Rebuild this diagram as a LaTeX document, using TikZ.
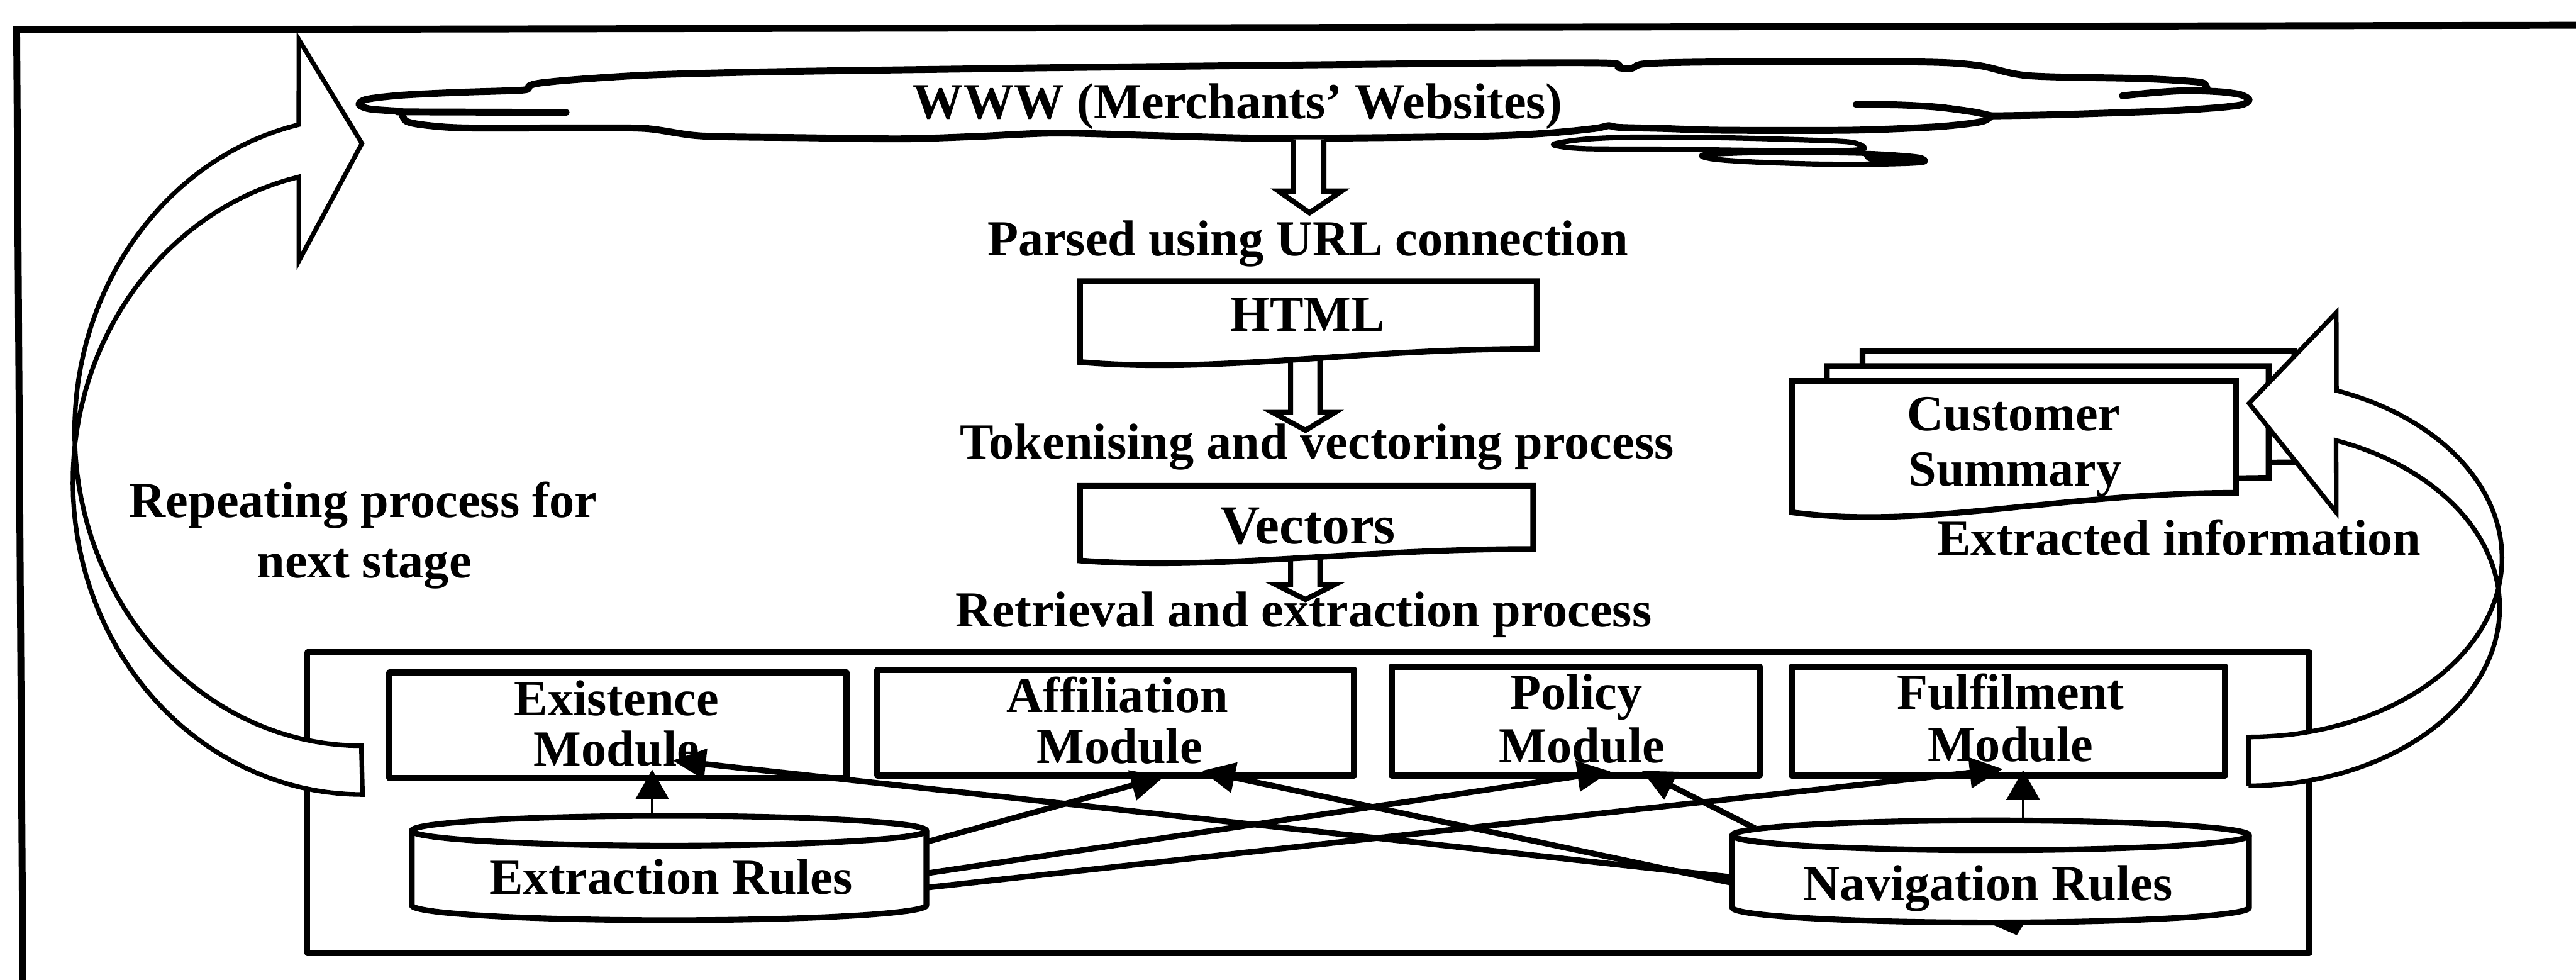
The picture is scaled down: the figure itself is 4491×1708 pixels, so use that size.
\documentclass[tikz,border=0pt]{standalone}
\usepackage{fontspec}
\setmainfont{Liberation Serif}
\usetikzlibrary{arrows.meta,calc}

% document shape with a wavy lower edge: left, top, right, lower-left y, rise of the wave
\newcommand\paperdoc[5]{%
  \draw[docline] (#1,#2) -- (#3,#2) -- (#3,#4-#5)
    .. controls ({#1+0.6*(#3-#1)},#4-#5) and ({#1+0.3*(#3-#1)},#4+0.9*#5) .. (#1,#4) -- cycle;}

% database drum: centre x, top ellipse centre y, x radius, y radius, foot y of the sides
\newcommand\rulesdrum[5]{%
  \draw[cyl] (#1-#3,#2) -- (#1-#3,#5)
     .. controls (#1-#3,#5+0.552*#4) and (#1-0.552*#3,#5+#4) .. (#1,#5+#4)
     .. controls (#1+0.552*#3,#5+#4) and (#1+#3,#5+0.552*#4) .. (#1+#3,#5)
     -- (#1+#3,#2) -- cycle;
  \draw[cyl] (#1,#2) ellipse [x radius=#3pt, y radius=#4pt];}

\begin{document}
\begin{tikzpicture}[x=1pt,y=-1pt,line join=round,
  txt/.style={inner sep=0pt, anchor=base, font=\fontsize{88}{88}\selectfont\bfseries},
  bigtxt/.style={txt, font=\fontsize{96}{96}\selectfont\bfseries},
  frame/.style={line width=12pt, line join=miter},
  cloudline/.style={line width=12pt, line cap=round},
  docline/.style={line width=10pt, fill=white, line join=miter},
  holder/.style={draw, line width=10pt, fill=white, inner sep=0pt},
  modbox/.style={draw, line width=11pt, fill=white, inner sep=0pt},
  spot/.style={inner sep=0pt},
  cyl/.style={line width=10pt, fill=white},
  link/.style={line width=10pt, -{Triangle[length=58pt,width=52pt]}},
  rise/.style={line width=5pt, -{Triangle[length=52pt,width=58pt]}},
  block/.style={line width=9pt, fill=white, line join=miter},
  curvearrow/.style={line width=8pt, fill=white, line join=miter}]

\useasboundingbox (0,0) rectangle (4491,1708);

% outer frame
\draw[frame] (40,1720) -- (29,52) -- (4500,44);

% cloud: WWW
\draw[cloudline] plot[smooth, tension=0.5] coordinates {
  (700,194) (645,190) (626,182) (640,173) (700,166) (800,161) (912,157)
  (922,150) (940,145) (1000,139) (1125,131) (1300,126) (1482,123) (1700,120)
  (1839,118) (2200,114) (2600,110) (2805,110) (2822,118) (2845,119) (2870,111)
  (3002,108) (3341,108) (3448,114) (3537,132) (3734,137) (3832,143) (3846,150) (3848,158)};
\draw[cloudline] plot[smooth, tension=0.5] coordinates {
  (3700,167) (3760,161) (3814,158) (3870,160) (3906,165) (3921,174) (3906,183)
  (3850,189) (3761,194) (3582,200) (3472,202)};
\draw[cloudline] plot[smooth, tension=0.5] coordinates {
  (3472,202) (3440,195) (3380,187) (3314,183) (3236,182)};
\draw[cloudline] plot[smooth, tension=0.5] coordinates {
  (3472,202) (3458,211) (3420,217) (3359,222) (3225,227) (3002,227) (2900,224)
  (2823,222) (2805,219) (2780,224) (2700,232) (2600,237) (2400,240) (2200,241)
  (2000,236) (1839,232) (1700,238) (1571,242) (1400,240) (1223,237) (1125,224)
  (1000,223) (812,223) (740,218) (708,211) (700,196)};
\draw[cloudline] (692,195) -- (987,196);
\draw[line width=9pt] plot[smooth cycle, tension=0.5] coordinates {
  (2708,252) (2760,243) (2850,239) (3000,240) (3150,244) (3228,248) (3250,259)
  (3200,263) (3050,262) (2900,260) (2760,259)};
\draw[line width=9pt] plot[smooth cycle, tension=0.5] coordinates {
  (2970,270) (3060,266) (3180,266) (3270,268) (3345,274) (3352,283) (3280,286)
  (3170,286) (3050,282) (2985,277)};
\fill plot[smooth cycle, tension=0.5] coordinates {(3255,266) (3340,271) (3356,283) (3300,287) (3258,281)};

% hollow block arrows down the pipeline
\draw[block] (2255,243) -- (2255,333) -- (2229,333) -- (2283,371) -- (2339,333) -- (2308,333) -- (2308,243);
\draw[block] (2250,622) -- (2250,719) -- (2219,719) -- (2276,750) -- (2327,719) -- (2301,719) -- (2301,622);
\draw[block] (2250,968) -- (2250,1019) -- (2224,1019) -- (2276,1045) -- (2327,1019) -- (2301,1019) -- (2301,968);

% documents
\paperdoc{1883}{490}{2679}{631}{23}
\paperdoc{1883}{847}{2673}{977}{20}
\paperdoc{3247}{612}{4000}{840}{34}
\paperdoc{3185}{638}{3955}{867}{34}
\paperdoc{3124}{664}{3898}{893}{34}

% module container and modules
\node[holder, minimum width=3490pt, minimum height=525pt] (stage) at (2281,1399.5) {};
\node[modbox, minimum width=797pt, minimum height=184pt] (exist) at (1077.5,1264) {};
\node[modbox, minimum width=831pt, minimum height=184pt] (affil) at (1945.5,1260) {};
\node[modbox, minimum width=642pt, minimum height=190pt] (policy) at (2747,1257) {};
\node[modbox, minimum width=755pt, minimum height=190pt] (fulfil) at (3501.5,1257) {};

% rule stores
\rulesdrum{1166.5}{1448}{448.5}{26}{1578}
\rulesdrum{3470.5}{1456}{450.5}{26}{1582}
\fill (3470,1610) -- (3516,1630) -- (3530,1608) -- cycle;
\node[spot, minimum width=897pt, minimum height=182pt] (extr) at (1166.5,1513) {};
\node[spot, minimum width=901pt, minimum height=178pt] (navi) at (3470.5,1519) {};

% rule connectors
\draw[rise] ($(extr.north)+(-29.5,0)$) -- ($(exist.south)+(59.5,-20)$);
\draw[rise] ($(navi.north)+(56.5,0)$) -- ($(fulfil.south)+(25.5,-15)$);
\draw[link] ($(navi.west)+(0,10)$) -- ($(exist.south)+(95,-36)$);
\draw[link] ($(navi.west)+(0,20)$) -- ($(affil.south)+(149.5,-14)$);
\draw[link] ($(navi.north west)+(40,14)$) -- ($(policy.south)+(115,-14)$);
\draw[link] ($(extr.east)+(2,-46)$) -- ($(affil.south)+(84.5,-4)$);
\draw[link] ($(extr.east)+(2,9)$) -- ($(policy.south)+(61,-13)$);
\draw[link] ($(extr.east)+(2,34)$) -- ($(fulfil.south)+(-9.5,-17)$);

% labels
\node[txt] (www) at (2158,207) {WWW (Merchants’ Websites)};
\node[txt] (parsed) at (2280,446) {Parsed using URL connection};
\node[txt] (htmltxt) at (2280,577) {HTML};
\node[txt] (token) at (2296,800) {Tokenising and vectoring process};
\node[bigtxt] (vec) at (2280,948) {Vectors};
\node[txt] (retr) at (2273,1093) {Retrieval and extraction process};
\node[txt] (cust1) at (3511,750) {Customer};
\node[txt] (cust2) at (3513,847) {Summary};
\node[txt] (extinfo) at (3799,968) {Extracted information};
\node[txt] (rep1) at (633,902) {Repeating process for};
\node[txt] (rep2) at (635,1007) {next stage};
\node[txt] (exist1) at (1075,1247) {Existence};
\node[txt] (exist2) at (1075,1335) {Module};
\node[txt] (affil1) at (1948,1242) {Affiliation};
\node[txt] (affil2) at (1952,1331) {Module};
\node[txt] (policy1) at (2748,1236) {Policy};
\node[txt] (policy2) at (2758,1329) {Module};
\node[txt] (fulfil1) at (3505,1236) {Fulfilment};
\node[txt] (fulfil2) at (3505,1327) {Module};
\node[txt] (extrtxt) at (1170,1559) {Extraction Rules};
\node[txt] (navitxt) at (3466,1569) {Navigation Rules};

% curved arrow: repeat for next stage
\draw[curvearrow] (632,1385)
  -- plot[domain=90:257.3, samples=70] ({632+505*cos(\x)},{840+545*sin(\x)})
  -- (521,455) -- (631,250) -- (521,69)
  -- plot[domain=102.6:270, samples=70] ({630+500*cos(\x)},{752-548*sin(\x)})
  -- cycle;

% curved arrow: extracted information
\draw[curvearrow] (3920,1370)
  -- plot[domain=-90:69.6, samples=70] ({3920+438*cos(\x)},{1059-310.8*sin(\x)})
  -- (4073,893) -- (3921,703) -- (4073,545)
  -- plot[domain=-69.7:90, samples=70] ({3920+442*cos(\x)},{973+311.7*sin(\x)})
  -- cycle;
\end{tikzpicture}
\end{document}
